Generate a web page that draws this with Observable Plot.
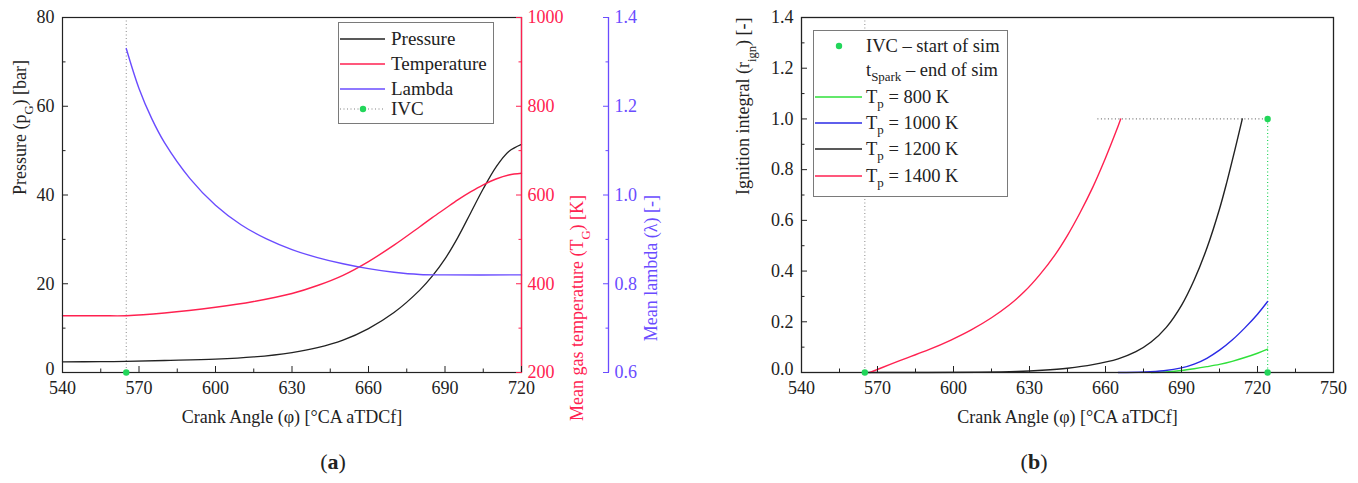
<!DOCTYPE html>
<html>
<head>
<meta charset="utf-8">
<script src="https://cdn.jsdelivr.net/npm/d3@7"></script>
<script src="https://cdn.jsdelivr.net/npm/@observablehq/plot@0.6"></script>
<style>
  body { margin: 0; background: #fff; font-family: "Liberation Serif", "Times New Roman", serif; }
  #wrap { position: relative; width: 1358px; height: 483px; overflow: hidden; }
  #left { position: absolute; left: 0; top: 0; }
  #right { position: absolute; left: 680px; top: 0; }
  .legend { position: absolute; background: #fff; border: 1px solid #7a7a7a; box-sizing: border-box; color: #222; }
  .legend .row { position: absolute; left: 0; height: 22px; display: flex; align-items: center; white-space: nowrap; }
  .legend .row svg { flex: none; }
  .legend sub { font-size: 70%; vertical-align: -0.35em; line-height: 0; }
  .caption { position: absolute; top: 449px; font-size: 22px; color: #222; width: 60px; text-align: center; }
</style>
</head>
<body>
<div id="wrap">
  <div id="left"></div>
  <div id="right"></div>
</div>
<script>
// ---------- Panel (a) data ----------
const angleLeft   = [540, 555, 565, 580, 600, 615, 630, 640, 650, 660, 670, 680, 685, 690, 695, 700, 705, 710, 715, 720];
const pressure    = [2.4, 2.45, 2.5, 2.7, 3.0, 3.5, 4.5, 5.6, 7.3, 9.9, 13.5, 18.5, 21.7, 25.6, 30.4, 35.9, 41.4, 46.3, 49.8, 51.4];
const temperature = [328, 328, 328, 334, 347, 360, 378, 396, 419, 450, 487, 528, 549, 569, 589, 607, 623, 636, 645, 649];
const angleLambda = [565, 570, 575, 580, 590, 600, 610, 620, 630, 640, 650, 660, 670, 680, 690, 720];
const lambda      = [1.33, 1.24, 1.172, 1.118, 1.037, 0.977, 0.933, 0.901, 0.877, 0.859, 0.845, 0.834, 0.826, 0.821, 0.820, 0.820];
const ivcAngle = 565;
const xDomainA = [540, 720];
const pressureDomain = [0, 80];
const tempDomain = [200, 1000];
const lambdaDomain = [0.6, 1.4];
const xTicksA = [540, 570, 600, 630, 660, 690, 720];
const pressureTicks = [0, 20, 40, 60, 80];
const tempTicks = [200, 400, 600, 800, 1000];
const lambdaTicks = [0.6, 0.8, 1.0, 1.2, 1.4];
const legendA = ["Pressure", "Temperature", "Lambda", "IVC"];

// ---------- Panel (b) data ----------
const angle800  = [678, 685, 690, 695, 700, 705, 710, 715, 720, 724];
const ign800    = [0, 0.003, 0.008, 0.015, 0.023, 0.032, 0.044, 0.059, 0.076, 0.092];
const angle1000 = [665, 675, 683, 690, 695, 700, 705, 710, 715, 720, 724];
const ign1000   = [0, 0.002, 0.007, 0.018, 0.033, 0.056, 0.088, 0.128, 0.176, 0.23, 0.28];
const angle1200 = [565, 590, 610, 625, 635, 645, 655, 665, 672, 678, 684, 690, 695, 700, 705, 708, 711, 714];
const ign1200   = [0, 0, 0.001, 0.004, 0.009, 0.017, 0.031, 0.054, 0.082, 0.12, 0.178, 0.265, 0.365, 0.49, 0.645, 0.755, 0.875, 1.0];
const angle1400 = [567, 575, 582, 590, 599, 607, 615, 622, 628, 634, 640, 645, 650, 655, 660, 664, 666];
const ign1400   = [0, 0.032, 0.059, 0.089, 0.128, 0.168, 0.216, 0.266, 0.319, 0.385, 0.463, 0.541, 0.631, 0.731, 0.846, 0.946, 1.0];
const sparkAngle = 724;
const ignThreshold = 1.0;
const thresholdFrom = 657;
const xDomainB = [540, 750];
const yDomainB = [0, 1.4];
const xTicksB = [540, 570, 600, 630, 660, 690, 720, 750];
const yTicksB = [0, 0.2, 0.4, 0.6, 0.8, 1.0, 1.2, 1.4];
const seriesB = ["T_p = 800 K", "T_p = 1000 K", "T_p = 1200 K", "T_p = 1400 K"];

// ---------- colours ----------
const cBlack = "#222222", cRed = "#ff2150", cBlue = "#6a4cff", cGreen = "#2fe03a",
      cBlueB = "#2a2ae6", cDot = "#22d65a";

const font = { fontFamily: "Liberation Serif, Times New Roman, serif", fontSize: "18px", color: "#222", background: "transparent", overflow: "visible" };
const curve = "catmull-rom";

function minorOf(ticks, step) {
  const out = [];
  for (let i = 0; i < ticks.length - 1; i++) out.push(+(ticks[i] + step).toFixed(6));
  return out;
}

// map temperature and lambda onto the pressure scale
const tToY = t => (t - tempDomain[0]) / (tempDomain[1] - tempDomain[0]) * (pressureDomain[1] - pressureDomain[0]);
const lToY = l => (l - lambdaDomain[0]) / (lambdaDomain[1] - lambdaDomain[0]) * (pressureDomain[1] - pressureDomain[0]);

const rowsP = angleLeft.map((a, i) => ({a, v: pressure[i]}));
const rowsT = angleLeft.map((a, i) => ({a, v: tToY(temperature[i])}));
const rowsL = angleLambda.map((a, i) => ({a, v: lToY(lambda[i])}));

const lambdaDx = 87;
const L = { label: null };

const plotA = Plot.plot({
  width: 680, height: 483,
  marginLeft: 62, marginRight: 159, marginTop: 17, marginBottom: 111,
  style: font,
  x: { domain: xDomainA, label: null },
  y: { domain: pressureDomain, label: null },
  marks: [
    Plot.ruleX([ivcAngle], { stroke: "#8a8a8a", strokeDasharray: "1,2.5", strokeWidth: 1 }),
    Plot.line(rowsP, { x: "a", y: "v", stroke: cBlack, strokeWidth: 1.3, curve }),
    Plot.line(rowsT, { x: "a", y: "v", stroke: cRed, strokeWidth: 1.4, curve }),
    Plot.line(rowsL, { x: "a", y: "v", stroke: cBlue, strokeWidth: 1.4, curve }),
    Plot.frame({ stroke: cBlack, strokeWidth: 1.2 }),
    Plot.ruleX([xDomainA[1]], { stroke: cRed, strokeWidth: 1.3 }),
    Plot.ruleX([xDomainA[1]], { stroke: cBlue, strokeWidth: 1.3, dx: lambdaDx }),
    // x axis
    Plot.axisX(xTicksA, { ...L, tickSize: 0, tickPadding: 9, fill: "#222" }),
    Plot.axisX(xTicksA, { ...L, tickSize: -6, text: null, stroke: cBlack }),
    Plot.axisX(minorOf(xTicksA, 15), { ...L, tickSize: -3.5, text: null, stroke: cBlack }),
    // pressure axis (bottom label nudged up to clear the x labels)
    Plot.axisY(pressureTicks.slice(1), { ...L, tickSize: 0, tickPadding: 8, fill: "#222" }),
    Plot.axisY(pressureTicks.slice(0, 1), { ...L, tickSize: 0, tickPadding: 8, fill: "#222", dy: -3 }),
    Plot.axisY(pressureTicks, { ...L, tickSize: -6, text: null, stroke: cBlack }),
    Plot.axisY(minorOf(pressureTicks, 10), { ...L, tickSize: -3.5, text: null, stroke: cBlack }),
    // temperature axis
    Plot.axisY(tempTicks.map(tToY), { ...L, anchor: "right", tickSize: 0, tickPadding: 6, fill: cRed,
      tickFormat: d => String(Math.round(tempDomain[0] + d / 80 * (tempDomain[1] - tempDomain[0]))) }),
    Plot.axisY(tempTicks.map(tToY), { ...L, anchor: "right", tickSize: -6, text: null, stroke: cRed }),
    Plot.axisY(minorOf(tempTicks, 100).map(tToY), { ...L, anchor: "right", tickSize: -3.5, text: null, stroke: cRed }),
    // lambda axis
    Plot.axisY(lambdaTicks.map(lToY), { ...L, anchor: "right", dx: lambdaDx, tickSize: 0, tickPadding: 6, fill: cBlue,
      tickFormat: d => (lambdaDomain[0] + d / 80 * (lambdaDomain[1] - lambdaDomain[0])).toFixed(1) }),
    Plot.axisY(lambdaTicks.map(lToY), { ...L, anchor: "right", dx: lambdaDx, tickSize: -6, text: null, stroke: cBlue }),
    Plot.axisY(minorOf(lambdaTicks, 0.1).map(lToY), { ...L, anchor: "right", dx: lambdaDx, tickSize: -3.5, text: null, stroke: cBlue }),
    // axis titles
    Plot.text(["Pressure (p_{G}) [bar]"], { text: d => d, frameAnchor: "left", dx: -42, rotate: -90, fill: "#222", fontSize: 18 }),
    Plot.text(["Mean gas temperature (T_{G}) [K]"], { text: d => d, frameAnchor: "right", dx: 56, rotate: -90, fill: cRed, fontSize: 18 }),
    Plot.text(["Mean lambda (λ) [-]"], { text: d => d, frameAnchor: "right", dx: 130, rotate: -90, fill: cBlue, fontSize: 18 }),
    Plot.text(["Crank Angle (φ) [°CA aTDCf]"], { text: d => d, frameAnchor: "bottom", dy: 50, fill: "#222", fontSize: 18 }),
    // IVC marker
    Plot.dot([ivcAngle], { x: d => d, y: () => pressureDomain[0], r: 3.2, fill: cDot, stroke: "none" })
  ]
});

const line = (xs, ys, color) => Plot.line(xs.map((a, i) => ({a, v: ys[i]})), { x: "a", y: "v", stroke: color, strokeWidth: 1.4, curve });

const plotB = Plot.plot({
  width: 678, height: 483,
  marginLeft: 121, marginRight: 25, marginTop: 17, marginBottom: 111,
  style: font,
  x: { domain: xDomainB, label: null },
  y: { domain: yDomainB, label: null },
  marks: [
    Plot.ruleX([ivcAngle], { stroke: "#8a8a8a", strokeDasharray: "1,2.5", strokeWidth: 1 }),
    Plot.ruleY([ignThreshold], { x1: thresholdFrom, x2: sparkAngle, stroke: "#777", strokeDasharray: "1,2.5", strokeWidth: 1.2 }),
    Plot.ruleX([sparkAngle], { y1: yDomainB[0], y2: ignThreshold, stroke: cDot, strokeDasharray: "1,2.5", strokeWidth: 1.2 }),
    line(angle800, ign800, cGreen),
    line(angle1000, ign1000, cBlueB),
    line(angle1200, ign1200, cBlack),
    line(angle1400, ign1400, cRed),
    Plot.frame({ stroke: cBlack, strokeWidth: 1.3 }),
    Plot.axisX(xTicksB, { ...L, tickSize: 0, tickPadding: 9, fill: "#222" }),
    Plot.axisX(xTicksB, { ...L, tickSize: -6, text: null, stroke: cBlack }),
    Plot.axisX(minorOf(xTicksB, 15), { ...L, tickSize: -3.5, text: null, stroke: cBlack }),
    Plot.axisY(yTicksB.slice(1), { ...L, tickSize: 0, tickPadding: 8, fill: "#222", tickFormat: d => d.toFixed(1) }),
    Plot.axisY(yTicksB.slice(0, 1), { ...L, tickSize: 0, tickPadding: 8, fill: "#222", dy: -3, tickFormat: d => d.toFixed(1) }),
    Plot.axisY(yTicksB, { ...L, tickSize: -6, text: null, stroke: cBlack }),
    Plot.axisY(minorOf(yTicksB, 0.1), { ...L, tickSize: -3.5, text: null, stroke: cBlack }),
    Plot.text(["Ignition integral (r_{ign}) [-]"], { text: d => d, frameAnchor: "left", dx: -58, rotate: -90, fill: "#222", fontSize: 18 }),
    Plot.text(["Crank Angle (φ) [°CA aTDCf]"], { text: d => d, frameAnchor: "bottom", dy: 50, fill: "#222", fontSize: 18 }),
    Plot.dot([ivcAngle, sparkAngle], { x: d => d, y: () => yDomainB[0], r: 3.2, fill: cDot, stroke: "none" }),
    Plot.dot([sparkAngle], { x: d => d, y: () => ignThreshold, r: 3.2, fill: cDot, stroke: "none" })
  ]
});

// subscripts: "_{..}" -> tspan
function subscripts(svg) {
  d3.select(svg).selectAll("text").each(function () {
    const t = this.textContent;
    if (!t.includes("_{")) return;
    const parts = t.split(/(_\{[^}]*\})/);
    this.textContent = "";
    for (const p of parts) {
      if (!p) continue;
      const m = p.match(/^_\{([^}]*)\}$/);
      const ts = document.createElementNS("http://www.w3.org/2000/svg", "tspan");
      if (m) { ts.setAttribute("baseline-shift", "sub"); ts.setAttribute("font-size", "70%"); ts.textContent = m[1]; }
      else ts.textContent = p;
      this.appendChild(ts);
    }
  });
}
subscripts(plotA);
subscripts(plotB);
document.getElementById("left").appendChild(plotA);
document.getElementById("right").appendChild(plotB);

// ---------- legends ----------
const wrap = document.getElementById("wrap");
function toHTML(s) { return s.replace(/_\{([^}]*)\}/g, "<sub>$1</sub>").replace(/_([A-Za-z]+)/g, "<sub>$1</sub>"); }
function legend(box, rows) {
  const div = document.createElement("div");
  div.className = "legend";
  Object.assign(div.style, { left: box.left + "px", top: box.top + "px", width: box.width + "px", height: box.height + "px", fontSize: box.fontSize + "px" });
  for (const r of rows) {
    const row = document.createElement("div");
    row.className = "row";
    row.style.top = (r.cy - 11) + "px";
    const sw = box.sample;
    let svg = `<svg width="${sw}" height="20">`;
    if (r.stroke) svg += `<line x1="1" x2="${sw - 2}" y1="10" y2="10" stroke="${r.stroke}" stroke-width="1.4" ${r.dash ? `stroke-dasharray="${r.dash}"` : ""}/>`;
    if (r.dot) svg += `<circle cx="${sw / 2}" cy="10" r="3.2" fill="${r.dot}"/>`;
    svg += `</svg>`;
    row.innerHTML = svg + `<span style="margin-left:${box.gap}px">${toHTML(r.label)}</span>`;
    div.appendChild(row);
  }
  wrap.appendChild(div);
}
legend({ left: 338, top: 22, width: 156, height: 102, sample: 48, gap: 4, fontSize: 19 }, [
  { label: legendA[0], cy: 16, stroke: cBlack },
  { label: legendA[1], cy: 41, stroke: cRed },
  { label: legendA[2], cy: 66, stroke: cBlue },
  { label: legendA[3], cy: 86, stroke: "#aaa", dash: "1,2.5", dot: cDot }
]);
legend({ left: 813, top: 30, width: 195, height: 167, sample: 50, gap: 2, fontSize: 18.5 }, [
  { label: "IVC – start of sim", cy: 15, dot: cDot },
  { label: "t_{Spark} – end of sim", cy: 39 },
  { label: seriesB[0], cy: 66, stroke: cGreen },
  { label: seriesB[1], cy: 92, stroke: cBlueB },
  { label: seriesB[2], cy: 118, stroke: cBlack },
  { label: seriesB[3], cy: 145, stroke: cRed }
]);

// captions
function caption(cx, letter) {
  const d = document.createElement("div");
  d.className = "caption";
  d.style.left = (cx - 30) + "px";
  d.innerHTML = `(<b>${letter}</b>)`;
  wrap.appendChild(d);
}
caption(333, "a");
caption(1034, "b");
</script>
</body>
</html>
